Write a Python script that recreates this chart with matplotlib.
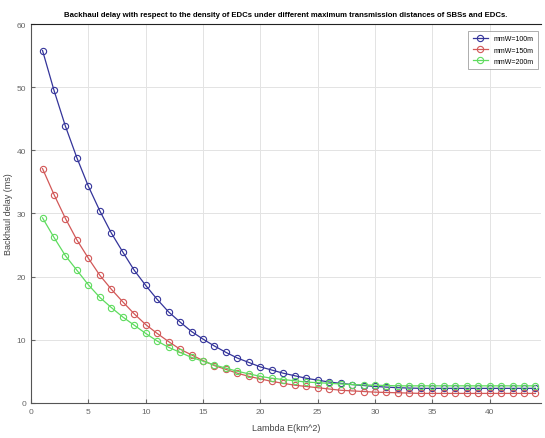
import numpy as np
import matplotlib.pyplot as plt

plt.rcParams['font.family'] = ['Liberation Sans', 'DejaVu Sans']

lam = np.arange(1, 45)

d_100 = [55.8, 49.5, 43.8, 38.8, 34.3, 30.4, 26.9, 23.9, 21.0, 18.6,
         16.4, 14.4, 12.8, 11.3, 10.1, 9.0, 8.0, 7.1, 6.4, 5.7,
         5.2, 4.7, 4.3, 3.9, 3.6, 3.3, 3.1, 2.9, 2.75, 2.6,
         2.5, 2.4, 2.35, 2.3, 2.3, 2.3, 2.3, 2.3, 2.3, 2.3,
         2.3, 2.3, 2.3, 2.3]
d_150 = [37.1, 33.0, 29.2, 25.8, 22.9, 20.2, 18.0, 16.0, 14.1, 12.4,
         11.0, 9.7, 8.5, 7.6, 6.7, 5.9, 5.3, 4.7, 4.2, 3.8,
         3.4, 3.1, 2.8, 2.6, 2.4, 2.2, 2.0, 1.9, 1.8, 1.7,
         1.65, 1.6, 1.55, 1.5, 1.5, 1.5, 1.5, 1.5, 1.5, 1.5,
         1.5, 1.5, 1.5, 1.5]
d_200 = [29.3, 26.2, 23.3, 21.0, 18.7, 16.7, 15.1, 13.6, 12.3, 11.0,
         9.8, 8.8, 8.0, 7.2, 6.6, 6.0, 5.5, 5.0, 4.6, 4.2,
         3.9, 3.7, 3.5, 3.3, 3.2, 3.1, 3.0, 2.9, 2.85, 2.8,
         2.75, 2.7, 2.7, 2.7, 2.7, 2.7, 2.7, 2.7, 2.7, 2.7,
         2.7, 2.7, 2.7, 2.7]

labels = ['mmW=100m', 'mmW=150m', 'mmW=200m']
colors = ['#34349a', '#d25858', '#5fdc5f']

fig = plt.figure(figsize=(5.45, 4.39), dpi=100)
ax = fig.add_axes([0.057, 0.080, 0.936, 0.863])

for d, lab, c in zip([d_100, d_150, d_200], labels, colors):
    ax.plot(lam, d, color=c, lw=0.9, marker='o', ms=4.5, mfc='none',
            mew=0.8, label=lab)

ax.set_xlim(0, 44.5)
ax.set_ylim(0, 60)
ax.set_xticks(range(0, 45, 5))
ax.set_yticks(range(0, 61, 10))
ax.grid(True, color='#e3e3e3', lw=0.7)
ax.tick_params(direction='in', labelsize=6, colors='#666666', length=3,
               top=False, right=False)
for s in ['left', 'bottom']:
    ax.spines[s].set_color('#555555')
ax.spines['top'].set_color('#222222')
ax.spines['right'].set_visible(False)

ax.set_title('Backhaul delay with respect to the density of EDCs under different '
             'maximum transmission distances of SBSs and EDCs.',
             fontsize=5.6, fontweight='bold', pad=6)
ax.set_xlabel('Lambda E(km^2)', fontsize=6.5, color='#444444', labelpad=6)
ax.set_ylabel('Backhaul delay (ms)', fontsize=6.5, color='#444444')
ax.yaxis.set_label_coords(-0.036, 0.5)

leg = ax.legend(loc='upper right', fontsize=5, frameon=True, fancybox=False,
                edgecolor='#888888', handlelength=2.2, borderpad=0.6,
                labelspacing=0.6, bbox_to_anchor=(1.0, 0.99))
leg.get_frame().set_linewidth(0.6)

fig.savefig('out.png', dpi=100)
